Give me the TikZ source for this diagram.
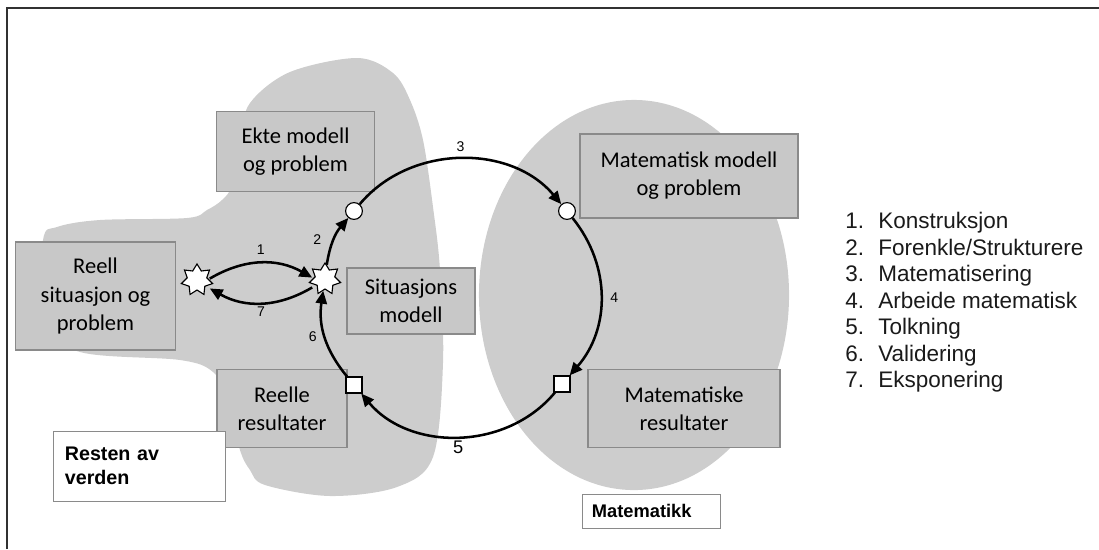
\documentclass[tikz,border=0pt]{standalone}
\usepackage{fontspec}
\setmainfont{Carlito}
\newfontfamily\arial{Liberation Sans}
\usetikzlibrary{arrows.meta,shapes.geometric}
\definecolor{blobgray}{HTML}{CDCDCD}
\definecolor{boxgray}{HTML}{C8C8C8}
\definecolor{boxline}{HTML}{8A8A8A}
\definecolor{ink}{HTML}{1A1A1A}

\begin{document}
\begin{tikzpicture}[x=0.025cm, y=-0.025cm,
  box/.style={draw=boxline, fill=boxgray, line width=0.8pt, align=center, inner sep=0pt, font=\fontsize{16}{20}\selectfont},
  tag/.style={draw=boxline, fill=white, line width=0.6pt, align=left, inner sep=0pt, font=\arial\bfseries},
  arr/.style={-{Triangle[length=3.2mm,width=2.8mm]}, line width=1.8pt},
  pin/.style={draw, fill=white, circle, minimum size=0.42cm, inner sep=0pt, line width=0.8pt},
  sq/.style={draw, fill=white, minimum size=0.4cm, inner sep=0pt, line width=0.8pt},
  burst/.style={draw, fill=white, star, star points=7, star point ratio=1.6, minimum size=0.8cm, inner sep=0pt, line width=0.8pt},
  num/.style={font=\arial\fontsize{10}{12}\selectfont, inner sep=2pt}]
\useasboundingbox (0,0) rectangle (1099,549);

% the two worlds
\fill[blobgray] plot[smooth cycle, tension=0.55] coordinates {
  (43,240) (57,227) (100,220) (187,218) (207,210) (222,200) (232,185)
  (240,140) (250,103) (290,72) (357,58) (393,73) (410,100) (423,140)
  (433,207) (440,270) (443,363) (433,457) (397,487) (330,496) (265,485)
  (250,470) (240,450) (228,400) (213,372) (180,360) (80,352) (40,320)};
\fill[blobgray] (634,295) ellipse [x radius=3.875cm, y radius=4.875cm];
\draw[ink!90, line width=1.2pt] (7,549) -- (7,8) -- (1099,8);

% boxes
\node[box, minimum width=3.93cm, minimum height=1.98cm] (ekte) at (295.5,151.5) {Ekte modell\\og problem};
\node[box, minimum width=3.98cm, minimum height=2.7cm] (reell) at (95.5,296) {Reell\\situasjon og\\problem};
\node[box, minimum width=3.2cm, minimum height=1.65cm] (sit) at (411,301) {Situasjons\\modell};
\node[box, minimum width=3.25cm, minimum height=1.93cm] (reelle) at (282,408.5) {Reelle\\resultater};
\node[box, minimum width=5.45cm, minimum height=2.1cm] (matm) at (689,176) {Matematisk modell\\og problem};
\node[box, minimum width=4.8cm, minimum height=1.93cm] (matr) at (684,408.5) {Matematiske\\resultater};
\node[tag, text width=3.73cm, minimum width=4.28cm, minimum height=1.75cm, inner xsep=0.275cm,
  font=\arial\bfseries\fontsize{14}{17}\selectfont] (verden) at (139.5,466) {Resten av\\verden};
\node[tag, text width=2.95cm, minimum width=3.45cm, minimum height=0.85cm, inner xsep=0.25cm,
  font=\arial\bfseries\fontsize{13}{15}\selectfont] (matk) at (651,511) {Matematikk};

% stations on the loop
\node[burst] (ls) at (197,280) {};
\node[burst] (rs) at (325,279) {};
\node[pin] (c1) at (354,211) {};
\node[pin] (c2) at (567,211) {};
\node[sq] (s1) at (354,385) {};
\node[sq] (s2) at (562,384) {};

% modelling cycle
\draw[arr] ([yshift=1pt]ls.east) to[bend left=30] node[num, above=3pt] {1} ([yshift=1pt]rs.west);
\draw[arr] (rs) to[bend left=16] node[num, left=6pt] {2} (c1);
\draw[arr] (c1) to[bend left=50] node[num, above=2pt] {3} (c2);
\draw[arr] (c2) to[bend left=40] node[num, right=4pt] {4} (s2);
\draw[arr] (s2) to[bend left=50] node[num, below=0pt, font=\arial\fontsize{13}{15}\selectfont] {5} (s1);
\draw[arr] (s1) to[bend left=24] node[num, left=3pt] {6} (rs);
\draw[arr] ([yshift=-6pt]rs.west) to[bend left=30] node[num, below=0pt] {7} ([yshift=-6pt]ls.east);

% legend
\foreach \i/\t in {1/Konstruksjon, 2/Forenkle\slash Strukturere, 3/Matematisering,
  4/Arbeide matematisk, 5/Tolkning, 6/Validering, 7/Eksponering} {
  \node[anchor=base west, inner sep=0pt, text=ink, font=\arial\fontsize{16}{19}\selectfont] (n\i) at (845,202+26.5*\i) {\i.};
  \node[anchor=base west, inner sep=0pt, text=ink, font=\arial\fontsize{16}{19}\selectfont] (t\i) at (878,202+26.5*\i) {\t};
}
\end{tikzpicture}
\end{document}
